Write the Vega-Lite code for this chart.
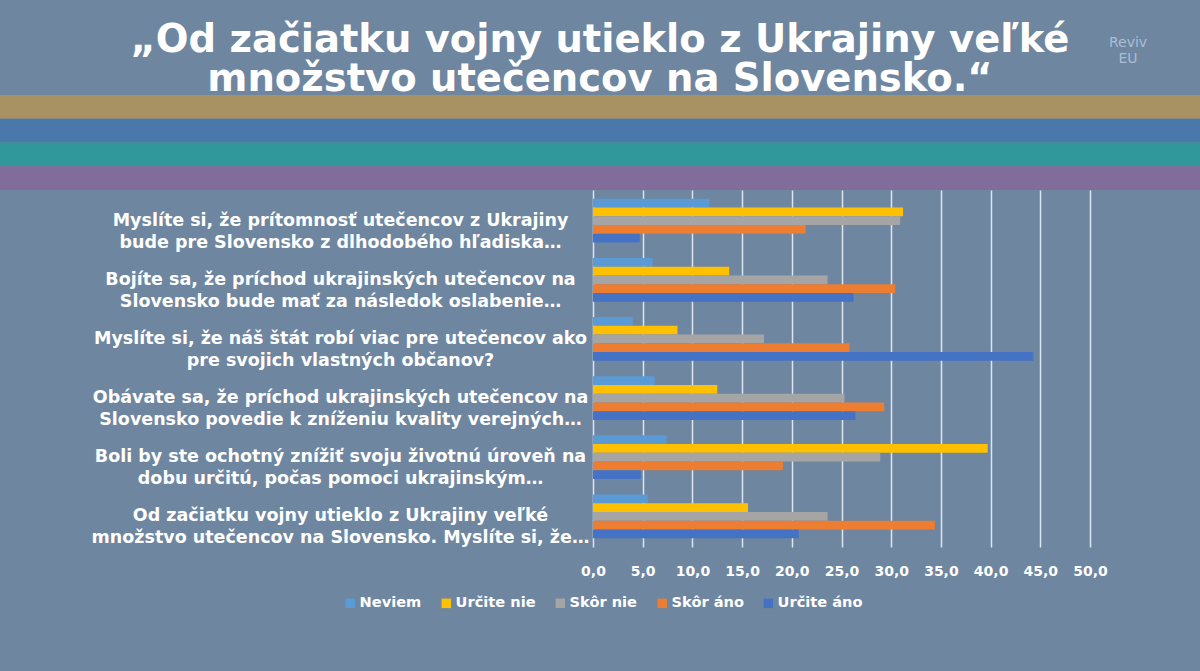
{
  "$schema": "https://vega.github.io/schema/vega-lite/v6.json",
  "background": "#6e86a0",
  "padding": {"top": 0, "left": 0, "right": 0, "bottom": 84},
  "title": {
    "text": ["„Od začiatku vojny utieklo z Ukrajiny veľké", "množstvo utečencov na Slovensko.“"],
    "font": "DejaVu Sans",
    "fontSize": 38.5,
    "fontWeight": "bold",
    "color": "white",
    "lineHeight": 39,
    "anchor": "middle",
    "frame": "bounds",
    "offset": -99
  },
  "spacing": 0,
  "resolve": {"scale": {"color": "independent", "x": "independent"}, "legend": {"color": "independent"}},
  "vconcat": [
    {
      "width": 607,
      "height": 190,
      "encoding": {
        "x": {"datum": 0, "type": "quantitative", "axis": null, "scale": {"domain": [0, 1], "range": [-593, 607]}},
        "y": {"field": "stripe", "type": "nominal", "axis": null,
              "scale": {"domain": ["h1", "h2", "h3", "h4", "tan", "blue", "teal", "purple"], "paddingInner": 0, "paddingOuter": 0}}
      },
      "layer": [
        {
          "data": {"values": [{"stripe": "tan"}, {"stripe": "blue"}, {"stripe": "teal"}, {"stripe": "purple"}]},
          "mark": {"type": "rect"},
          "encoding": {
            "x2": {"datum": 1},
            "color": {"field": "stripe", "type": "nominal", "legend": null,
              "scale": {"domain": ["tan", "blue", "teal", "purple"], "range": ["#a89162", "#4a78aa", "#30989a", "#806d9c"]}}
          }
        },
        {
          "data": {"values": [{"stripe": "h2", "logo": "Reviv\nEU"}]},
          "mark": {"type": "text", "lineBreak": "\n", "font": "DejaVu Sans", "fontSize": 14, "lineHeight": 16, "color": "#aabed5", "align": "center", "baseline": "middle"},
          "encoding": {
            "x": {"datum": 0.94, "type": "quantitative"},
            "y": {"field": "stripe", "type": "nominal", "bandPosition": 0.8},
            "text": {"field": "logo"}
          }
        }
      ]
    },
    {
      "width": 497,
      "height": 357,
      "data": {"values": [
        {"q": "Myslíte si, že prítomnosť utečencov z Ukrajiny\nbude pre Slovensko z dlhodobého hľadiska…", "cat": "Neviem", "value": 11.7},
        {"q": "Myslíte si, že prítomnosť utečencov z Ukrajiny\nbude pre Slovensko z dlhodobého hľadiska…", "cat": "Určite nie", "value": 31.2},
        {"q": "Myslíte si, že prítomnosť utečencov z Ukrajiny\nbude pre Slovensko z dlhodobého hľadiska…", "cat": "Skôr nie", "value": 30.9},
        {"q": "Myslíte si, že prítomnosť utečencov z Ukrajiny\nbude pre Slovensko z dlhodobého hľadiska…", "cat": "Skôr áno", "value": 21.4},
        {"q": "Myslíte si, že prítomnosť utečencov z Ukrajiny\nbude pre Slovensko z dlhodobého hľadiska…", "cat": "Určite áno", "value": 4.7},
        {"q": "Bojíte sa, že príchod ukrajinských utečencov na\nSlovensko bude mať za následok oslabenie…", "cat": "Neviem", "value": 6.0},
        {"q": "Bojíte sa, že príchod ukrajinských utečencov na\nSlovensko bude mať za následok oslabenie…", "cat": "Určite nie", "value": 13.7},
        {"q": "Bojíte sa, že príchod ukrajinských utečencov na\nSlovensko bude mať za následok oslabenie…", "cat": "Skôr nie", "value": 23.6},
        {"q": "Bojíte sa, že príchod ukrajinských utečencov na\nSlovensko bude mať za následok oslabenie…", "cat": "Skôr áno", "value": 30.4},
        {"q": "Bojíte sa, že príchod ukrajinských utečencov na\nSlovensko bude mať za následok oslabenie…", "cat": "Určite áno", "value": 26.2},
        {"q": "Myslíte si, že náš štát robí viac pre utečencov ako\npre svojich vlastných občanov?", "cat": "Neviem", "value": 4.0},
        {"q": "Myslíte si, že náš štát robí viac pre utečencov ako\npre svojich vlastných občanov?", "cat": "Určite nie", "value": 8.5},
        {"q": "Myslíte si, že náš štát robí viac pre utečencov ako\npre svojich vlastných občanov?", "cat": "Skôr nie", "value": 17.2},
        {"q": "Myslíte si, že náš štát robí viac pre utečencov ako\npre svojich vlastných občanov?", "cat": "Skôr áno", "value": 25.8},
        {"q": "Myslíte si, že náš štát robí viac pre utečencov ako\npre svojich vlastných občanov?", "cat": "Určite áno", "value": 44.3},
        {"q": "Obávate sa, že príchod ukrajinských utečencov na\nSlovensko povedie k zníženiu kvality verejných…", "cat": "Neviem", "value": 6.2},
        {"q": "Obávate sa, že príchod ukrajinských utečencov na\nSlovensko povedie k zníženiu kvality verejných…", "cat": "Určite nie", "value": 12.5},
        {"q": "Obávate sa, že príchod ukrajinských utečencov na\nSlovensko povedie k zníženiu kvality verejných…", "cat": "Skôr nie", "value": 25.3},
        {"q": "Obávate sa, že príchod ukrajinských utečencov na\nSlovensko povedie k zníženiu kvality verejných…", "cat": "Skôr áno", "value": 29.3},
        {"q": "Obávate sa, že príchod ukrajinských utečencov na\nSlovensko povedie k zníženiu kvality verejných…", "cat": "Určite áno", "value": 26.4},
        {"q": "Boli by ste ochotný znížiť svoju životnú úroveň na\ndobu určitú, počas pomoci ukrajinským…", "cat": "Neviem", "value": 7.4},
        {"q": "Boli by ste ochotný znížiť svoju životnú úroveň na\ndobu určitú, počas pomoci ukrajinským…", "cat": "Určite nie", "value": 39.7},
        {"q": "Boli by ste ochotný znížiť svoju životnú úroveň na\ndobu určitú, počas pomoci ukrajinským…", "cat": "Skôr nie", "value": 28.9},
        {"q": "Boli by ste ochotný znížiť svoju životnú úroveň na\ndobu určitú, počas pomoci ukrajinským…", "cat": "Skôr áno", "value": 19.1},
        {"q": "Boli by ste ochotný znížiť svoju životnú úroveň na\ndobu určitú, počas pomoci ukrajinským…", "cat": "Určite áno", "value": 4.8},
        {"q": "Od začiatku vojny utieklo z Ukrajiny veľké\nmnožstvo utečencov na Slovensko. Myslíte si, že…", "cat": "Neviem", "value": 5.5},
        {"q": "Od začiatku vojny utieklo z Ukrajiny veľké\nmnožstvo utečencov na Slovensko. Myslíte si, že…", "cat": "Určite nie", "value": 15.6},
        {"q": "Od začiatku vojny utieklo z Ukrajiny veľké\nmnožstvo utečencov na Slovensko. Myslíte si, že…", "cat": "Skôr nie", "value": 23.6},
        {"q": "Od začiatku vojny utieklo z Ukrajiny veľké\nmnožstvo utečencov na Slovensko. Myslíte si, že…", "cat": "Skôr áno", "value": 34.4},
        {"q": "Od začiatku vojny utieklo z Ukrajiny veľké\nmnožstvo utečencov na Slovensko. Myslíte si, že…", "cat": "Určite áno", "value": 20.7}
      ]},
      "mark": {"type": "bar"},
      "encoding": {
        "y": {
          "field": "q", "type": "nominal", "sort": null,
          "scale": {"paddingInner": 0.26, "paddingOuter": 0.15},
          "axis": {
            "title": " ", "titleX": -593, "titleY": 0, "titleAngle": 0, "titleAlign": "left", "titleBaseline": "top", "titleFontSize": 4,
            "domain": false, "ticks": false, "grid": false,
            "labelAlign": "center", "labelBaseline": "middle", "labelPadding": 253,
            "labelFont": "DejaVu Sans", "labelFontWeight": "bold", "labelFontSize": 17.5, "labelLineHeight": 22,
            "labelColor": "white", "labelLimit": 1000,
            "labelExpr": "split(datum.label, '\\n')"
          }
        },
        "x": {
          "field": "value", "type": "quantitative",
          "scale": {"domain": [0, 50], "nice": false},
          "axis": {
            "title": null, "values": [0, 5, 10, 15, 20, 25, 30, 35, 40, 45, 50],
            "labelExpr": "replace(format(datum.value, '.1f'), '.', ',')",
            "labelOverlap": false, "labelFlush": false,
            "grid": true, "gridColor": "#dce6f0", "gridWidth": 1.5,
            "domain": false, "ticks": false, "labelPadding": 17,
            "labelFont": "DejaVu Sans", "labelFontWeight": "bold", "labelFontSize": 14, "labelColor": "white"
          }
        },
        "yOffset": {
          "field": "cat", "type": "nominal",
          "sort": ["Neviem", "Určite nie", "Skôr nie", "Skôr áno", "Určite áno"],
          "scale": {"paddingInner": 0, "paddingOuter": 0}
        },
        "color": {
          "field": "cat", "type": "nominal",
          "sort": ["Neviem", "Určite nie", "Skôr nie", "Skôr áno", "Určite áno"],
          "scale": {"domain": ["Neviem", "Určite nie", "Skôr nie", "Skôr áno", "Určite áno"],
                    "range": ["#5b9bd5", "#ffc000", "#a5a5a5", "#ed7d31", "#4472c4"]},
          "legend": {
            "orient": "none", "legendX": -250, "legendY": 406, "direction": "horizontal", "title": null,
            "symbolType": "square", "symbolSize": 90, "symbolStrokeWidth": 0,
            "labelColor": "white", "labelFont": "DejaVu Sans", "labelFontWeight": "bold", "labelFontSize": 14.6,
            "labelOffset": 2, "columnPadding": 17
          }
        }
      }
    }
  ],
  "config": {"view": {"stroke": null}}
}
